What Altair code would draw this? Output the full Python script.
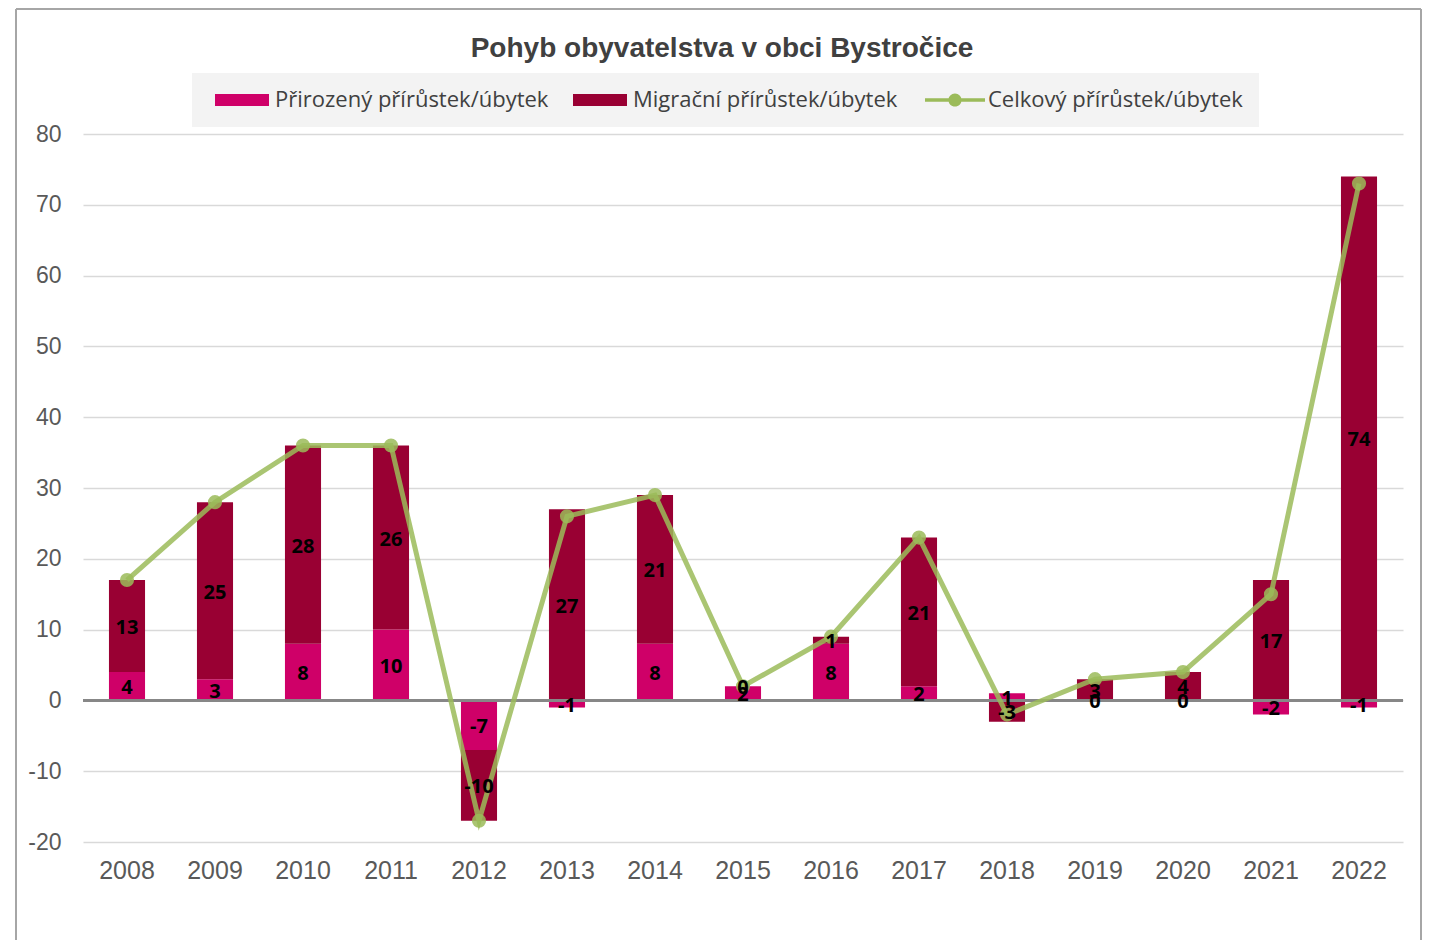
import altair as alt
import pandas as pd

years = [str(y) for y in range(2008, 2023)]
natural = [4, 3, 8, 10, -7, -1, 8, 2, 8, 2, 1, 0, 0, -2, -1]
migration = [13, 25, 28, 26, -10, 27, 21, 0, 1, 21, -3, 3, 4, 17, 74]
total = [17, 28, 36, 36, -17, 26, 29, 2, 9, 23, -2, 3, 4, 15, 73]
bar_series = ["Přirozený přírůstek/úbytek", "Migrační přírůstek/úbytek"]
bar_colors = ["#CF0068", "#990033"]
line_series = ["Celkový přírůstek/úbytek"]
line_color = "#9BBB59"
y_ticks = list(range(-20, 81, 10))
title_text = "Pohyb obyvatelstva v obci Bystročice"

rows = []
for i, y in enumerate(years):
    rows.append({"year": y, "series": bar_series[0], "value": natural[i], "order": 0})
    rows.append({"year": y, "series": bar_series[1], "value": migration[i], "order": 1})
bars_df = pd.DataFrame(rows)
line_df = pd.DataFrame({"year": years, "total": total, "series": line_series * len(years)})

W, H = 1320, 708
x_scale = alt.Scale(domain=years, paddingInner=0.59, paddingOuter=0.295)
y_scale = alt.Scale(domain=[-20, 80], nice=False, zero=False)

BAR_PATH = "M-0.9,-0.2L0.9,-0.2L0.9,0.2L-0.9,0.2Z"
LINE_PATH = ("M-1,-0.06L1,-0.06L1,0.06L-1,0.06Z "
             "M-0.22,0A0.22,0.22 0 1,1 0.22,0A0.22,0.22 0 1,1 -0.22,0Z")

legend_common = dict(
    title=None, orient="none", direction="horizontal", padding=0,
    symbolSize=3600, labelFont="Open Sans", labelFontSize=22, labelColor="#404040",
    labelOffset=3, columnPadding=21, labelLimit=500,
)

x_enc = alt.X("year:N", scale=x_scale, sort=years,
              axis=alt.Axis(title=None, domain=False, ticks=False, labelAngle=0,
                            labelFont="Liberation Sans", labelFontSize=25,
                            labelColor="#595959", labelPadding=16, grid=False))

legend_bg = alt.Chart(pd.DataFrame({"b": [0]})).mark_rect(color="#f3f3f3").encode(
    x=alt.value(109), x2=alt.value(1176), y=alt.value(-61), y2=alt.value(-7))

bars = alt.Chart(bars_df).mark_bar().encode(
    x=x_enc,
    y=alt.Y("value:Q", stack="zero", scale=y_scale,
            axis=alt.Axis(title=None, values=y_ticks, domain=False, ticks=False,
                          labelFont="Liberation Sans", labelFontSize=23,
                          labelColor="#595959", labelPadding=22,
                          gridColor="#d9d9d9", gridWidth=1.5,
                          labelExpr="'' + datum.value")),
    color=alt.Color("series:N",
                    scale=alt.Scale(domain=bar_series, range=bar_colors),
                    legend=alt.Legend(legendX=129, legendY=-64, symbolType=BAR_PATH,
                                      symbolStrokeWidth=0, **legend_common)),
    order=alt.Order("order:Q"),
)

zero_rule = alt.Chart(pd.DataFrame({"z": [0]})).mark_rule(color="#878787", strokeWidth=3).encode(
    y=alt.datum(0)
)

line = alt.Chart(line_df).mark_line(strokeWidth=5, opacity=0.85).encode(
    x=alt.X("year:N", scale=x_scale, sort=years),
    y=alt.Y("total:Q", scale=y_scale),
    stroke=alt.Stroke("series:N", scale=alt.Scale(domain=line_series, range=[line_color]),
                      legend=alt.Legend(legendX=842, legendY=-64, symbolType=LINE_PATH,
                                        symbolStrokeWidth=0, symbolFillColor=line_color,
                                        symbolOpacity=1, **legend_common)),
)

points = alt.Chart(line_df).mark_circle(size=200, color=line_color, opacity=0.85).encode(
    x=alt.X("year:N", scale=x_scale, sort=years),
    y=alt.Y("total:Q", scale=y_scale),
)

labels = alt.Chart(bars_df).transform_stack(
    stack="value", groupby=["year"], as_=["v0", "v1"],
    sort=[alt.SortField("order")], offset="zero",
).transform_calculate(
    mid="(datum.v0 + datum.v1) / 2", lbl="'' + datum.value"
).mark_text(font="Open Sans", fontSize=20, fontWeight="bold", color="#000000",
            baseline="middle", align="center", dy=2).encode(
    x=alt.X("year:N", scale=x_scale, sort=years),
    y=alt.Y("mid:Q", scale=y_scale),
    text="lbl:N",
)

frame_df = pd.DataFrame({"f": [0]})
frame_left = alt.Chart(frame_df).mark_rule(color="#a6a6a6", strokeWidth=2).encode(
    x=alt.value(-67), y=alt.value(-125), y2=alt.value(806))
frame_right = alt.Chart(frame_df).mark_rule(color="#a6a6a6", strokeWidth=2).encode(
    x=alt.value(1338), y=alt.value(-125), y2=alt.value(806))
frame_top = alt.Chart(frame_df).mark_rule(color="#a6a6a6", strokeWidth=2).encode(
    x=alt.value(-67), x2=alt.value(1338), y=alt.value(-125))

chart = alt.layer(
    legend_bg, bars, zero_rule, line, points, labels, frame_left, frame_right, frame_top
).properties(
    width=W, height=H,
    padding={"left": 75, "top": 126, "right": 19, "bottom": 98},
    autosize="none",
    title=alt.TitleParams(title_text, font="Liberation Sans", fontSize=28, fontWeight="bold",
                          color="#404040", anchor="middle", frame="group", dx=-21,
                          baseline="alphabetic", offset=10, dy=87),
).resolve_scale(color="independent").configure(
    background="white", view=alt.ViewConfig(stroke=None)
)

chart.save("out.html", embed_options={"renderer": "svg", "actions": False})
